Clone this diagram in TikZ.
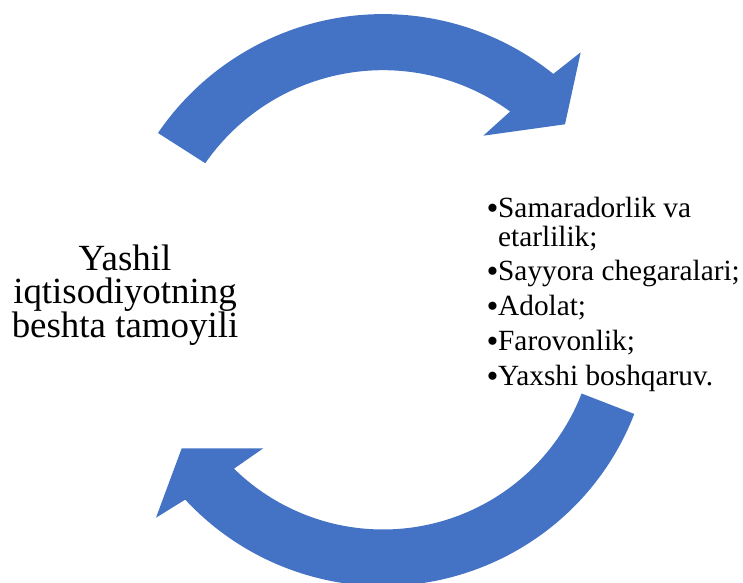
\documentclass[tikz,border=0pt]{standalone}
\usepackage{fontspec}
\setmainfont{Liberation Serif}
\definecolor{arrowblue}{HTML}{4472C4}
\begin{document}
\begin{tikzpicture}[x=1bp,y=1bp,
  arrowshape/.style={fill=arrowblue, draw=none},
  titletext/.style={font=\fontsize{36.9bp}{33bp}\selectfont, inner sep=0pt, align=center, anchor=base},
  listtext/.style={font=\fontsize{29.3bp}{35bp}\selectfont, inner sep=0pt, anchor=base west},
  bullettext/.style={font=\fontsize{34bp}{34bp}\selectfont, inner sep=0pt, anchor=base west, yshift=-1.5bp}]
\useasboundingbox (0,0) rectangle (743,583);
\clip (0,0) rectangle (743,583);
% top arrow
\begin{scope}[shift={(383,296.5)}]
\fill[arrowshape] (145.7:272.4) arc[start angle=145.7, end angle=51.3, radius=272.4bp]
  -- (197.7,234.2) -- (182,162.2) -- (100.3,150.8) -- (54.0:216.3)
  arc[start angle=54.0, end angle=145.25, radius=216.3bp] -- cycle;
\end{scope}
% bottom arrow
\begin{scope}[shift={(383,266.5)}]
\fill[arrowshape] (-21.2:269.5) arc[start angle=-21.2, end angle=-137.2, radius=269.5bp]
  -- (-227,-201.2) -- (-201.3,-131.8) -- (-119.7,-131.8) -- (-134.4:213)
  arc[start angle=-134.4, end angle=-21.2, radius=213bp] -- cycle;
\end{scope}
% left title
\node[titletext] (title) at (125,245.3) {Yashil\\iqtisodiyotning\\beshta tamoyili};
% right list
\node[bullettext] (b1) at (486.5,365) {•};
\node[listtext] (t1) at (498,365) {Samaradorlik va};
\node[listtext] (t1b) at (498,336.5) {etarlilik;};
\node[bullettext] (b2) at (486.5,302) {•};
\node[listtext] (t2) at (498,302) {Sayyora chegaralari;};
\node[bullettext] (b3) at (486.5,267) {•};
\node[listtext] (t3) at (498,267) {Adolat;};
\node[bullettext] (b4) at (486.5,232) {•};
\node[listtext] (t4) at (498,232) {Farovonlik;};
\node[bullettext] (b5) at (486.5,197) {•};
\node[listtext] (t5) at (498,197) {Yaxshi boshqaruv.};
\end{tikzpicture}
\end{document}
